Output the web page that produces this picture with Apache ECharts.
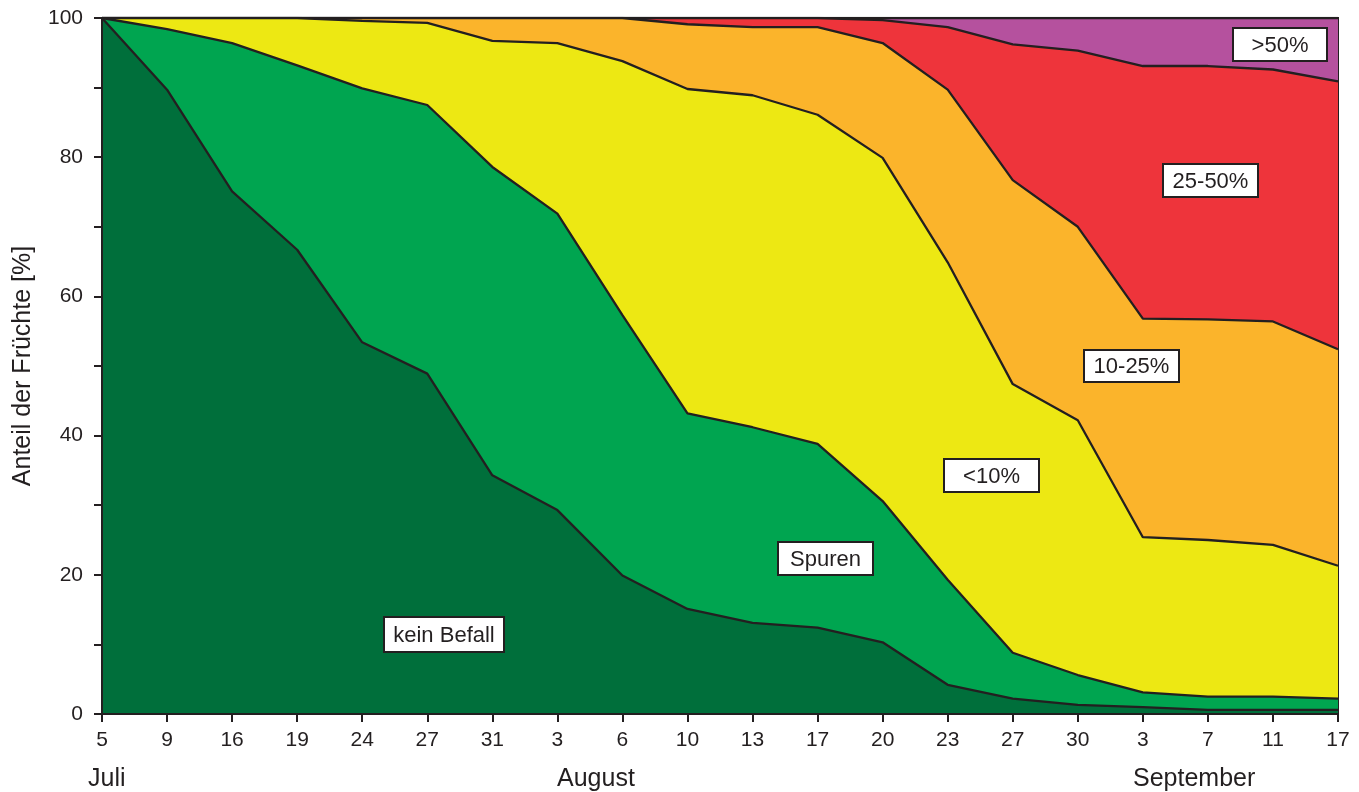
<!DOCTYPE html>
<html>
<head>
<meta charset="utf-8">
<script src="https://cdn.jsdelivr.net/npm/echarts@6/dist/echarts.min.js"></script>
<style>html,body{margin:0;padding:0;background:#fff;}#chart{width:1359px;height:792px;}</style>
</head>
<body>
<div id="chart"></div>
<script>
const categories = ['5','9','16','19','24','27','31','3','6','10','13','17','20','23','27','30','3','7','11','17'];
const keinBefall = [100,89.7,75.1,66.7,53.4,48.9,34.3,29.3,19.9,15.1,13.1,12.4,10.3,4.2,2.2,1.3,1.0,0.6,0.6,0.6];
const spuren     = [0,8.7,21.3,26.5,36.5,38.6,44.3,42.6,37.4,28.1,28.1,26.4,20.3,15.1,6.6,4.3,2.1,1.9,1.9,1.6];
const unter10    = [0,1.6,3.6,6.8,9.7,11.8,18.1,24.5,36.5,46.6,47.7,47.3,49.3,45.6,38.6,36.6,22.3,22.5,21.8,19.1];
const p10bis25   = [0,0,0,0,0.4,0.7,3.3,3.6,6.2,9.3,9.8,12.6,16.5,24.8,29.3,27.8,31.4,31.7,32.1,31.1];
const p25bis50   = [0,0,0,0,0,0,0,0,0,0.9,1.3,1.3,3.3,9.0,19.5,25.3,36.3,36.4,36.2,38.5];
const ueber50    = [0,0,0,0,0,0,0,0,0,0,0,0,0.3,1.3,3.8,4.7,6.9,6.9,7.4,9.1];
const yTicks = [0,20,40,60,80,100];

const seriesDefs = [
  ['kein Befall', keinBefall, '#006F3B'],
  ['Spuren', spuren, '#00A550'],
  ['<10%', unter10, '#EDE813'],
  ['10-25%', p10bis25, '#FBB42B'],
  ['25-50%', p25bis50, '#EE343B'],
  ['>50%', ueber50, '#B5519E']
];
const ink = '#231F20';
const font = 'Liberation Sans, Arial, Helvetica, sans-serif';

const chart = echarts.init(document.getElementById('chart'));

function box(x, y, w, h, text) {
  return [
    {type: 'rect', z: 100, shape: {x: x, y: y, width: w, height: h}, style: {fill: '#ffffff', stroke: ink, lineWidth: 2}},
    {type: 'text', z: 101, style: {x: x + w / 2, y: y + h / 2 + 1, text: text, fill: ink, font: '22px ' + font, textAlign: 'center', textVerticalAlign: 'middle'}}
  ];
}
function monthText(x, y, text) {
  return {type: 'text', z: 100, style: {x: x, y: y, text: text, fill: ink, font: '25px ' + font, textAlign: 'left', textVerticalAlign: 'middle'}};
}

chart.setOption({
  animation: false,
  backgroundColor: '#fff',
  grid: {left: 102, right: 21, top: 18, bottom: 78, show: true, borderColor: ink, borderWidth: 2, backgroundColor: 'transparent'},
  xAxis: {
    type: 'category', data: categories, boundaryGap: false, z: 10,
    axisLine: {lineStyle: {color: ink, width: 2}},
    axisTick: {length: 8, lineStyle: {color: ink, width: 2}, alignWithLabel: true},
    axisLabel: {color: ink, fontSize: 21, fontFamily: font, margin: 16, interval: 0},
    splitLine: {show: false}
  },
  yAxis: {
    type: 'value', min: 0, max: 100, interval: 20, z: 10,
    name: 'Anteil der Früchte [%]', nameLocation: 'middle', nameGap: 66,
    nameTextStyle: {color: ink, fontSize: 25, fontFamily: font},
    axisLine: {show: true, lineStyle: {color: ink, width: 2}},
    axisTick: {show: true, length: 8, lineStyle: {color: ink, width: 2}},
    minorTick: {show: true, splitNumber: 2, length: 8, lineStyle: {color: ink, width: 2}},
    axisLabel: {color: ink, fontSize: 21, fontFamily: font, margin: 19,
      formatter: function (v) { return yTicks.indexOf(v) >= 0 ? String(v) : ''; }},
    splitLine: {show: false}
  },
  series: seriesDefs.map(function (d, i) {
    return {
      name: d[0], type: 'line', stack: 'total', data: d[1],
      symbol: 'none', z: 8 - i,
      lineStyle: {color: ink, width: 2.3},
      areaStyle: {color: d[2], opacity: 1},
      itemStyle: {color: d[2]}
    };
  }),
  graphic: [].concat(
    box(384, 617, 120, 35, 'kein Befall'),
    box(778, 542, 95, 33, 'Spuren'),
    box(944, 459, 95, 33, '<10%'),
    box(1084, 350, 95, 32, '10-25%'),
    box(1163, 164, 95, 33, '25-50%'),
    box(1233, 28, 94, 33, '>50%'),
    [monthText(88, 779, 'Juli'),
     monthText(557, 779, 'August'),
     monthText(1133, 779, 'September')]
  )
});
</script>
</body>
</html>
